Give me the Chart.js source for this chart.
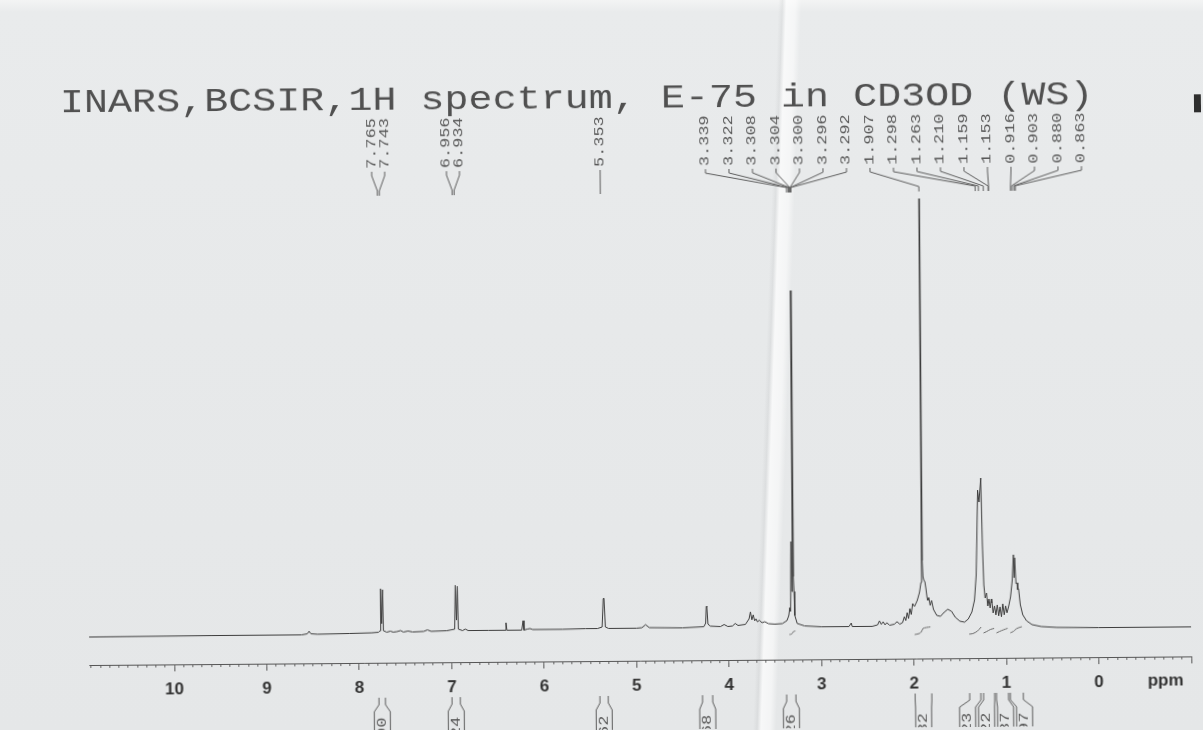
<!DOCTYPE html>
<html>
<head>
<meta charset="utf-8">
<title>INARS,BCSIR,1H spectrum, E-75 in CD3OD (WS)</title>
<script src="https://cdn.jsdelivr.net/npm/chart.js@4.4.1/dist/chart.umd.min.js"></script>
<style>
  html, body { margin: 0; padding: 0; }
  body {
    position: relative;
    width: 1203px; height: 730px; overflow: hidden;
    background:
      linear-gradient(92deg, rgba(0,0,0,0) 0, rgba(0,0,0,0) 778px, rgba(160,162,164,0.14) 782px, rgba(255,255,255,0.7) 786px, rgba(255,255,255,0.55) 795px, rgba(0,0,0,0) 801px),
      linear-gradient(180deg, #f3f4f4 0, #e9ebec 12px, #e7e9ea 45%, #e5e7e8 100%);
  }
  #wrap {
    position: absolute; left: 0; top: 0; width: 1203px; height: 730px;
    transform: rotate(-0.45deg); transform-origin: 50% 50%;
  }
</style>
</head>
<body>
<div id="wrap"><canvas id="spectrum" width="1203" height="730"></canvas></div>
<script>
const TITLE = "INARS,BCSIR,1H spectrum, E-75 in CD3OD (WS)";
const PPM_MIN = -1.0;
const PPM_MAX = 10.92;

// trace: [shift in ppm, height above baseline]
const spectrumTrace = [
  [10.92, 0], [9.6, 0.5], [8.62, 0.5], [8.56, 1.5], [8.54, 4], [8.52, 1.5], [8.45, 1],
  [8.1, 1.5], [7.86, 2], [7.79, 2.5],
  [7.772, 4], [7.765, 46], [7.754, 11], [7.743, 45], [7.736, 4],
  [7.70, 2.5], [7.66, 3.5], [7.63, 2.5], [7.59, 3], [7.55, 4], [7.52, 2.5], [7.47, 3.5], [7.42, 2.5],
  [7.30, 3], [7.26, 4.5], [7.22, 3], [7.05, 3.5],
  [6.965, 5], [6.956, 49], [6.945, 14], [6.934, 48], [6.925, 5],
  [6.88, 3.5], [6.85, 5], [6.82, 3.5], [6.60, 3.5],
  [6.42, 3.5], [6.41, 11], [6.40, 3.5],
  [6.24, 3.5], [6.225, 13], [6.215, 3.5], [6.18, 4.5], [6.15, 5], [6.12, 4], [5.80, 4], [5.55, 4.5], [5.42, 4.5],
  [5.37, 6], [5.357, 34], [5.353, 35], [5.348, 34], [5.335, 6], [5.30, 4.5],
  [5.00, 4.5], [4.94, 5], [4.90, 8], [4.86, 5], [4.50, 4.5],
  [4.27, 5.5], [4.25, 9], [4.243, 26], [4.236, 25], [4.225, 8], [4.20, 6],
  [4.09, 5.5], [4.05, 7.5], [4.01, 5.5], [3.96, 6], [3.93, 8.5], [3.90, 6.5],
  [3.82, 7.5], [3.78, 13], [3.765, 20], [3.75, 12], [3.735, 17], [3.72, 11], [3.705, 13], [3.69, 10],
  [3.67, 11.5], [3.64, 9], [3.61, 10], [3.57, 8], [3.50, 7.5], [3.42, 8],
  [3.37, 11], [3.35, 16], [3.339, 24], [3.33, 20], [3.322, 90], [3.315, 40], [3.308, 62], [3.304, 341],
  [3.300, 85], [3.296, 55], [3.292, 40], [3.285, 16], [3.26, 8], [3.18, 5.5],
  [3.00, 4.5], [2.70, 4.5], [2.675, 8], [2.665, 4.5], [2.45, 4.5],
  [2.39, 6], [2.37, 10], [2.35, 6.5], [2.33, 9], [2.31, 6], [2.29, 8], [2.26, 5.5], [2.21, 6.5], [2.18, 9], [2.15, 6.5],
  [2.12, 8], [2.10, 14], [2.085, 10], [2.07, 18], [2.055, 12], [2.04, 22], [2.025, 16], [2.01, 27], [1.99, 24],
  [1.96, 30], [1.935, 38], [1.918, 48], [1.911, 68], [1.907, 432], [1.903, 70], [1.896, 54], [1.886, 50],
  [1.876, 49], [1.865, 42], [1.852, 32],
  [1.845, 30], [1.835, 33], [1.82, 25], [1.805, 30], [1.785, 21], [1.75, 15], [1.71, 14], [1.67, 18],
  [1.63, 21], [1.59, 19], [1.55, 13], [1.50, 9], [1.45, 8],
  [1.41, 11], [1.37, 18], [1.34, 30], [1.32, 55], [1.31, 90], [1.298, 140], [1.283, 128], [1.263, 152],
  [1.25, 85], [1.238, 45],
  [1.225, 32], [1.210, 37], [1.197, 24], [1.185, 31], [1.172, 22], [1.159, 31], [1.156, 27], [1.153, 30], [1.14, 17],
  [1.125, 24], [1.11, 15], [1.095, 25], [1.08, 14], [1.065, 23], [1.05, 13], [1.035, 26], [1.02, 15], [1.005, 24], [0.99, 17],
  [0.97, 24], [0.95, 33], [0.93, 50], [0.916, 75], [0.910, 52], [0.903, 72], [0.89, 46], [0.880, 47], [0.872, 40], [0.863, 41],
  [0.845, 25], [0.82, 15], [0.78, 9], [0.72, 5], [0.62, 3], [0.45, 2], [0.0, 1.5], [-1.0, 1.5],
];

// integral curves drawn just under the trace
const integralCurves = [
  [[3.345, -3], [3.32, -2.5], [3.30, 0], [3.28, 0.5]],
  [[1.99, -4], [1.94, -3], [1.915, -1], [1.90, 2], [1.86, 3], [1.82, 3.5]],
  [[1.40, -4], [1.36, -3.5], [1.31, -1], [1.28, 2], [1.27, 3]],
  [[1.245, -3], [1.21, -1.5], [1.17, 0.5], [1.13, 1.5]],
  [[1.105, -3], [1.07, -1.5], [1.03, 0], [0.985, 1.5]],
  [[0.955, -3], [0.92, -1.5], [0.89, 1], [0.85, 2.5], [0.83, 3]],
];

// picked peaks, printed above the spectrum
const peakShifts = [
  7.765, 7.743, 6.956, 6.934, 5.353,
  3.339, 3.322, 3.308, 3.304, 3.300, 3.296, 3.292,
  1.907, 1.298, 1.263, 1.210, 1.159, 1.153, 0.916, 0.903, 0.880, 0.863,
];

// integral regions and the part of each value left on the page
const integralFrom = [7.79, 7.00, 5.40, 4.29, 3.38, 1.99, 1.40, 1.25, 1.11, 0.96];
const integralTo   = [7.72, 6.91, 5.31, 4.18, 3.28, 1.81, 1.28, 1.13, 0.98, 0.82];
const integralText = ["00", "24", "62", "68", "26", "32", "23", "22", "37", "97"];

const majorTicks = [];
for (let v = -1; v <= 10; v++) majorTicks.push(v);
const minorTicks = [];
for (let v = -10; v <= 109; v++) minorTicks.push(v / 10);

// how the peak labels are fanned out
const LABEL_GROUPS = [
  { first: 0, count: 2, gap: 13 },
  { first: 2, count: 2, gap: 13 },
  { first: 4, count: 1, gap: 0 },
  { first: 5, count: 17, gap: 23.5, center: 2.18 },
];
const LABEL_BOTTOM = 167;
const LEADER_Y = 189;
const BRACKET_TOP = 696;
const Y_MIN = -28;

const INK = '#3d3d3d';

function rotatedText(ctx, text, x, y, stretch) {
  ctx.save();
  ctx.translate(x, y);
  ctx.rotate(-Math.PI / 2);
  ctx.scale(stretch, 1);
  ctx.textAlign = 'left';
  ctx.textBaseline = 'middle';
  ctx.fillText(text, 0, 0);
  ctx.restore();
}

const spectrumDecor = {
  id: 'spectrumDecor',
  afterDraw(chart) {
    const { ctx } = chart;
    const xs = chart.scales.x;
    const px = v => xs.getPixelForValue(v);
    ctx.save();

    // title line
    ctx.fillStyle = '#505050';
    ctx.font = '34px "Liberation Mono", monospace';
    ctx.textBaseline = 'alphabetic';
    ctx.save();
    ctx.translate(62, 108);
    ctx.scale(1.178, 1);
    ctx.fillText(TITLE, 0, 0);
    ctx.restore();
    // edge of the next printed field, cut by the page border
    ctx.fillStyle = '#2e2e2e';
    ctx.fillRect(1196, 99, 8, 18);

    // peak labels with leader lines
    ctx.fillStyle = '#575757';
    ctx.strokeStyle = '#5c5c5c';
    ctx.lineWidth = 1;
    ctx.font = '13px "Liberation Mono", monospace';
    for (const g of LABEL_GROUPS) {
      const idx = Array.from({ length: g.count }, (_, k) => g.first + k);
      const peakX = idx.map(i => px(peakShifts[i]));
      const mid = g.center !== undefined ? px(g.center) : peakX.reduce((a, b) => a + b, 0) / peakX.length;
      idx.forEach((i, k) => {
        const lx = mid + (k - (g.count - 1) / 2) * g.gap;
        rotatedText(ctx, peakShifts[i].toFixed(3), lx, LABEL_BOTTOM, 1.3);
        ctx.beginPath();
        ctx.moveTo(lx, LABEL_BOTTOM + 3);
        ctx.lineTo(lx, LABEL_BOTTOM + 7);
        ctx.lineTo(peakX[k], LEADER_Y);
        ctx.lineTo(peakX[k], LEADER_Y + 5);
        ctx.stroke();
      });
    }

    // axis unit
    ctx.fillStyle = '#333';
    ctx.font = 'bold 17px "Liberation Sans", Arial, sans-serif';
    ctx.textAlign = 'center';
    ctx.textBaseline = 'top';
    ctx.fillText('ppm', px(-0.72), xs.top + 16);

    // integral brackets under the axis
    const regions = integralFrom.map((f, i) => ({ l: px(f), r: px(integralTo[i]), text: integralText[i] }));
    const centers = regions.map(r => (r.l + r.r) / 2);
    const boxX = centers.slice();
    let start = 0;
    for (let i = 1; i <= centers.length; i++) {
      if (i === centers.length || centers[i] - centers[i - 1] >= 19) {
        const n = i - start;
        const mean = centers.slice(start, i).reduce((a, b) => a + b, 0) / n;
        for (let k = 0; k < n; k++) boxX[start + k] = mean + (k - (n - 1) / 2) * 19;
        start = i;
      }
    }
    ctx.strokeStyle = '#5c5c5c';
    ctx.fillStyle = '#555';
    ctx.font = '13px "Liberation Mono", monospace';
    regions.forEach((r, i) => {
      const bx = boxX[i];
      ctx.beginPath();
      ctx.moveTo(r.l, BRACKET_TOP);
      ctx.lineTo(r.l, BRACKET_TOP + 7);
      ctx.lineTo(bx - 8, BRACKET_TOP + 14);
      ctx.lineTo(bx - 8, 745);
      ctx.moveTo(r.r, BRACKET_TOP);
      ctx.lineTo(r.r, BRACKET_TOP + 7);
      ctx.lineTo(bx + 8, BRACKET_TOP + 14);
      ctx.lineTo(bx + 8, 745);
      ctx.stroke();
      rotatedText(ctx, r.text, bx, 736, 1.3);
    });

    ctx.restore();
  }
};

const datasets = [
  {
    data: spectrumTrace.map(([p, h]) => ({ x: p, y: h })),
    showLine: true, borderColor: INK, borderWidth: 1, pointRadius: 0, tension: 0,
  },
  ...integralCurves.map(seg => ({
    data: seg.map(([p, h]) => ({ x: p, y: h })),
    showLine: true, borderColor: '#6b6b6b', borderWidth: 1, pointRadius: 0, tension: 0.3,
  })),
];

new Chart(document.getElementById('spectrum'), {
  type: 'scatter',
  data: { datasets },
  options: {
    responsive: false,
    animation: false,
    events: [],
    layout: { padding: { left: 87, right: 14, top: 150, bottom: 0 } },
    plugins: { legend: { display: false }, tooltip: { enabled: false } },
    scales: {
      x: {
        type: 'linear', reverse: true, min: PPM_MIN, max: PPM_MAX, position: 'bottom',
        afterBuildTicks: s => { s.ticks = majorTicks.map(v => ({ value: v })); },
        afterFit: s => { s.height = 69; },
        ticks: {
          callback: v => (v === -1 ? '' : String(v)),
          color: '#333', padding: 8, maxRotation: 0, autoSkip: false,
          font: { family: '"Liberation Sans", Arial, sans-serif', size: 17, weight: 'bold' },
        },
        grid: { drawOnChartArea: false, tickLength: 7, tickColor: '#555', tickWidth: 1 },
        border: { color: '#555', width: 1 },
      },
      xMinor: {
        type: 'linear', axis: 'x', reverse: true, min: PPM_MIN, max: PPM_MAX, position: { y: Y_MIN },
        afterBuildTicks: s => { s.ticks = minorTicks.map(v => ({ value: v })); },
        ticks: { display: false },
        grid: { drawOnChartArea: false, tickLength: 3, tickColor: '#666', tickWidth: 1 },
        border: { display: false },
      },
      y: { type: 'linear', display: false, min: Y_MIN, max: 633 - 150 },
    },
  },
  plugins: [spectrumDecor],
});
</script>
</body>
</html>
